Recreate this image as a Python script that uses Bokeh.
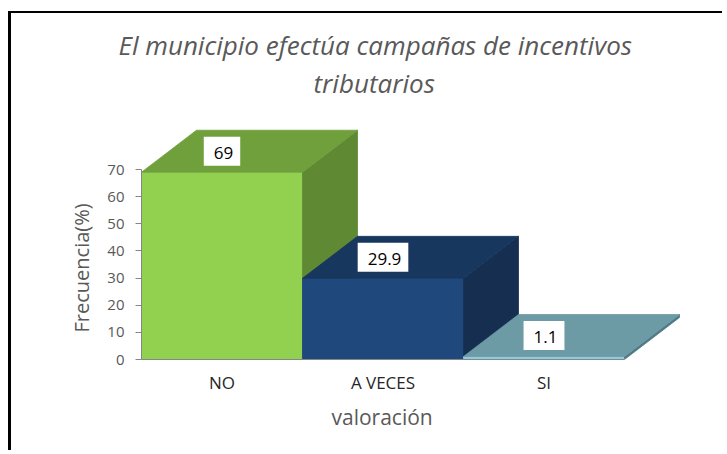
from bokeh.plotting import figure
from bokeh.models import Range1d, FixedTicker, ColumnDataSource, Title
from bokeh.core.properties import value
from bokeh.embed import file_html
from bokeh.resources import INLINE

# ---- data ----
categories = ["NO", "A VECES", "SI"]
values = [69.0, 29.9, 1.1]
value_labels = ["69", "29.9", "1.1"]
y_ticks = [0, 10, 20, 30, 40, 50, 60, 70]
title_lines = ["El municipio efectúa campañas de incentivos", "tributarios"]
x_title = "valoración"
y_title = "Frecuencia(%)"

# ---- style ----
front_colors = ["#92D050", "#1F497D", "#8CCBE0"]
top_colors = ["#70A03C", "#17375E", "#6C9BA6"]
side_colors = ["#5F8A33", "#162E50", "#4F7A85"]
GRAY = "#595959"
FONT = "Open Sans"

PX_X = 161.0      # pixels per category
PX_Y = 2.714      # pixels per unit of value
DEPTH_X = 55.0 / PX_X
DEPTH_Y = 42.0 / PX_Y

W, H = 714, 439
LEFT = 130
TOP = 87
FRAME_H = 259
BOTTOM = H - TOP - FRAME_H
frame_w = W - LEFT

centers = [i + 1 for i in range(len(categories))]

p = figure(width=W, height=H,
           x_range=Range1d(0.5, 0.5 + frame_w / PX_X),
           y_range=Range1d(0, FRAME_H / PX_Y),
           output_backend="svg", toolbar_location=None,
           min_border_left=LEFT, min_border_right=0,
           min_border_top=TOP, min_border_bottom=BOTTOM,
           margin=(13, 0, 0, 11),
           styles={"box-shadow": "-3px -2px 0px 0px #000000"})
p.background_fill_color = "white"
p.border_fill_color = "white"
p.outline_line_color = None
p.xgrid.visible = False
p.ygrid.visible = False

# ---- 3D boxes (faces in drawing order, left to right) ----
xs, ys, fills = [], [], []
for c, v, fc, tc, sc in zip(centers, values, front_colors, top_colors, side_colors):
    x0, x1 = c - 0.5, c + 0.5
    xs.append([x0, x1, x1, x0]); ys.append([0, 0, v, v]); fills.append(fc)
    xs.append([x1, x1 + DEPTH_X, x1 + DEPTH_X, x1]); ys.append([0, DEPTH_Y, v + DEPTH_Y, v]); fills.append(sc)
    xs.append([x0, x0 + DEPTH_X, x1 + DEPTH_X, x1]); ys.append([v, v + DEPTH_Y, v + DEPTH_Y, v]); fills.append(tc)

src = ColumnDataSource(dict(xs=xs, ys=ys, fill=fills))
p.patches("xs", "ys", source=src, fill_color="fill", line_color="fill", line_width=0.8)

# ---- value labels ----
lab_src = ColumnDataSource(dict(x=centers, y=[v + DEPTH_Y / 2 for v in values], t=value_labels))
p.text("x", "y", text="t", source=lab_src, text_align="center", text_baseline="middle",
       text_font=value(FONT), text_font_size="17px", text_color="#000000",
       background_fill_color="white", padding=(10, 7, 10, 7))

# ---- chart title: two lines (second line nearest the plot) ----
title_offsets = [-23, 172]
for line, off in reversed(list(zip(title_lines, title_offsets))):
    p.add_layout(Title(text=line, align="left", offset=off, standoff=0,
                       text_font=FONT, text_font_size="26px", text_font_style="italic",
                       text_color=GRAY), "above")

# ---- axes ----
ya = p.yaxis[0]
ya.ticker = FixedTicker(ticks=y_ticks)
ya.bounds = (0, 70)
ya.axis_line_color = "#868686"
ya.major_tick_line_color = "#868686"
ya.major_tick_out = 6
ya.major_tick_in = 0
ya.minor_tick_line_color = None
ya.major_label_text_font = FONT
ya.major_label_text_font_size = "15px"
ya.major_label_text_color = GRAY
ya.major_label_standoff = 11

xa = p.xaxis[0]
xa.ticker = FixedTicker(ticks=centers)
xa.major_label_overrides = {c: lab for c, lab in zip(centers, categories)}
xa.bounds = (0.5, 3.5)
xa.axis_line_color = "#868686"
xa.major_tick_line_color = None
xa.major_tick_out = 0
xa.major_tick_in = 0
xa.minor_tick_line_color = None
xa.major_label_text_font = FONT
xa.major_label_text_font_size = "17px"
xa.major_label_text_color = "#262626"
xa.major_label_standoff = 11

# axis titles positioned along the bounded part of the axes
p.add_layout(Title(text=y_title, align="left", offset=27, standoff=20,
                   text_font=FONT, text_font_size="20px", text_font_style="normal",
                   text_color=GRAY), "left")
p.add_layout(Title(text=x_title, align="left", offset=190, standoff=8,
                   text_font=FONT, text_font_size="21px", text_font_style="normal",
                   text_color=GRAY), "below")

open("out.html", "w").write(file_html(p, INLINE))
